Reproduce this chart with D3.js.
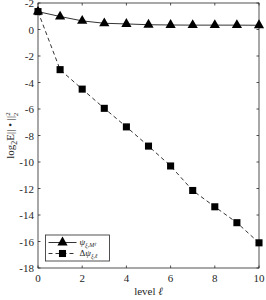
<!DOCTYPE html>
<html><head><meta charset="utf-8">
<script src="https://cdn.jsdelivr.net/npm/d3@7"></script>
<style>body{margin:0;background:#fff}svg{display:block}svg text{font-family:"Liberation Serif";}</style>
</head><body>
<svg id="c" width="266" height="300"></svg>
<script>
const levels = [0,1,2,3,4,5,6,7,8,9,10];
const psiM = [1.35,0.98,0.65,0.47,0.42,0.36,0.34,0.33,0.33,0.33,0.32];
const dPsi = [1.35,-3.03,-4.5,-5.95,-7.35,-8.8,-10.3,-12.15,-13.38,-14.58,-16.1];
const xTicks = [0,2,4,6,8,10];
const yTicks = [-18,-16,-14,-12,-10,-8,-6,-4,-2,0,2];

const svg = d3.select("#c");
const L=38,R=259,T=3,B=268;
const x = d3.scaleLinear().domain([0,10]).range([L,R]);
const y = d3.scaleLinear().domain([-18,2]).range([B,T]);
const g = svg.append("g");
g.append("rect").attr("x",L).attr("y",T).attr("width",R-L).attr("height",B-T).attr("fill","none").attr("stroke","#262626").attr("stroke-width",0.8);
const tl=2.5;
xTicks.forEach(v=>{
  g.append("line").attr("x1",x(v)).attr("x2",x(v)).attr("y1",B).attr("y2",B-tl).attr("stroke","#262626").attr("stroke-width",0.8);
  g.append("line").attr("x1",x(v)).attr("x2",x(v)).attr("y1",T).attr("y2",T+tl).attr("stroke","#262626").attr("stroke-width",0.8);
  g.append("text").attr("x",x(v)).attr("y",B+14).attr("text-anchor","middle").attr("font-size",11).attr("fill","#262626").text(v);
});
yTicks.forEach(v=>{
  g.append("line").attr("x1",L).attr("x2",L+tl).attr("y1",y(v)).attr("y2",y(v)).attr("stroke","#262626").attr("stroke-width",0.8);
  g.append("line").attr("x1",R).attr("x2",R-tl).attr("y1",y(v)).attr("y2",y(v)).attr("stroke","#262626").attr("stroke-width",0.8);
  g.append("text").attr("x",L-4).attr("y",y(v)+4).attr("text-anchor","end").attr("font-size",11).attr("fill","#262626").text(v===0?"0":"-"+Math.abs(v));
});
// x label
const xl = g.append("text").attr("x",(L+R)/2).attr("y",295).attr("text-anchor","middle").attr("font-size",11).attr("fill","#262626");
xl.append("tspan").text("level ");
xl.append("tspan").attr("font-style","italic").text("ℓ");
// y label
const yl = g.append("text").attr("transform","translate(14,"+((T+B)/2)+") rotate(-90)").attr("text-anchor","middle").attr("font-size",11).attr("fill","#262626");
yl.append("tspan").text("log");
yl.append("tspan").attr("font-size",8).attr("dy",3).text("2");
yl.append("tspan").attr("dy",-3).text("E|| • ||");
yl.append("tspan").attr("font-size",7).attr("dy",-4).text("2");
yl.append("tspan").attr("font-size",7).attr("dx",-4).attr("dy",8).text("2");

const line = d3.line().x((d,i)=>x(levels[i])).y(d=>y(d));
g.append("path").attr("d",line(psiM)).attr("fill","none").attr("stroke","#000").attr("stroke-width",0.8);
g.append("path").attr("d",line(dPsi)).attr("fill","none").attr("stroke","#000").attr("stroke-width",0.8).attr("stroke-dasharray","4,3");
const tri = d3.symbol().type(d3.symbolTriangle).size(45);
const sq = d3.symbol().type(d3.symbolSquare).size(50);
g.selectAll(".t").data(psiM).enter().append("path").attr("d",tri).attr("transform",(d,i)=>`translate(${x(levels[i])},${y(d)})`).attr("fill","#000");
g.selectAll(".s").data(dPsi).enter().append("path").attr("d",sq).attr("transform",(d,i)=>`translate(${x(levels[i])},${y(d)})`).attr("fill","#000");

// legend
const lx=45.5,ly=235,lw=64,lh=26;
g.append("rect").attr("x",lx).attr("y",ly).attr("width",lw).attr("height",lh).attr("fill","#fff").attr("stroke","#262626").attr("stroke-width",0.8);
const rows=[{y:ly+7.5,dash:null,sym:tri,label:[["ψ",0,9,"italic"],["ξ,M",2,6,"italic"],["ℓ",1,5,"italic"]]},{y:ly+18.5,dash:"4,3",sym:sq,label:[["Δ",0,9,"normal"],["ψ",0,9,"italic"],["ξ,ℓ",2,6,"italic"]]}];
rows.forEach(r=>{
  g.append("line").attr("x1",lx+3).attr("x2",lx+31).attr("y1",r.y).attr("y2",r.y).attr("stroke","#000").attr("stroke-width",0.8).attr("stroke-dasharray",r.dash);
  g.append("path").attr("d",r.sym).attr("transform",`translate(${lx+17},${r.y})`).attr("fill","#000");
  const t=g.append("text").attr("x",lx+34).attr("y",r.y+2.5).attr("fill","#262626");
  let prev=0;
  r.label.forEach(([s,dy,fs,st])=>{t.append("tspan").attr("dy",dy-prev).attr("font-size",fs).attr("font-style",st).text(s);prev=dy;});
});
</script>
</body></html>
